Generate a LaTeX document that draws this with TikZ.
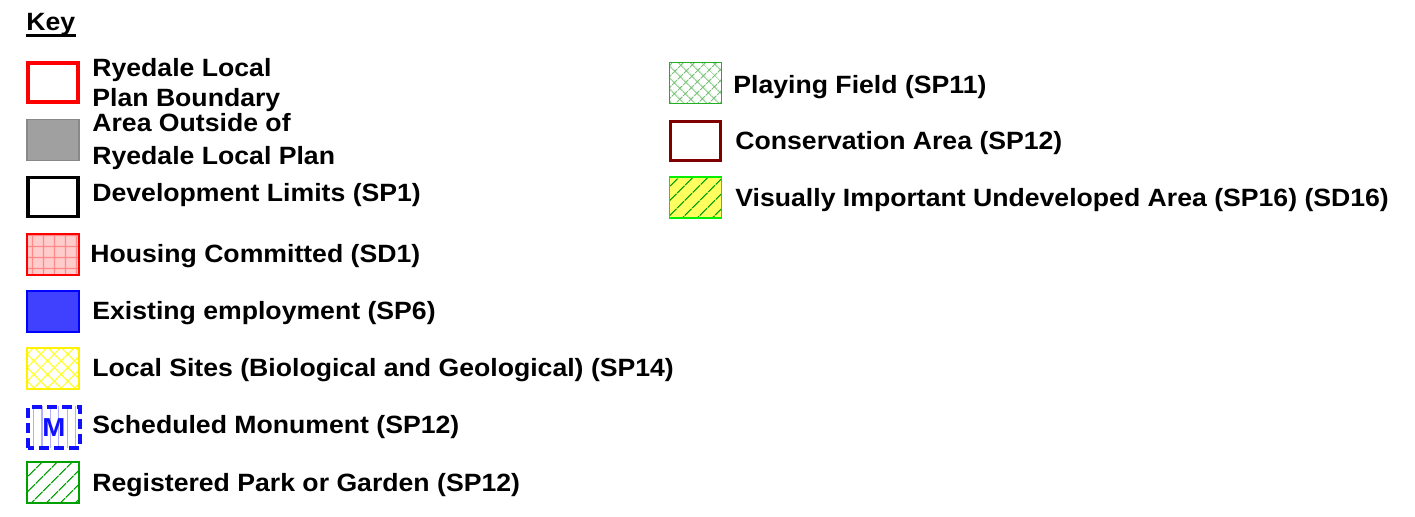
\documentclass[tikz,border=0pt]{standalone}
\usepackage{fontspec}
\setmainfont[FakeStretch=1.065]{Liberation Sans}
\usetikzlibrary{patterns.meta}

\definecolor{keyred}{HTML}{FF0000}
\definecolor{keygray}{HTML}{A0A0A0}
\definecolor{keypink}{HTML}{FFCCCC}
\definecolor{keygrid}{HTML}{FF8888}
\definecolor{keyblue}{HTML}{4040FF}
\definecolor{keyyellow}{HTML}{FFFF30}
\definecolor{keymon}{HTML}{1010FF}
\definecolor{keymonline}{HTML}{B0B0FF}
\definecolor{keygreen}{HTML}{00A000}
\definecolor{keyfield}{HTML}{20B020}
\definecolor{keyfieldline}{HTML}{78C078}
\definecolor{keycons}{HTML}{800000}
\definecolor{keyvis}{HTML}{FFFF60}
\definecolor{keyvisedge}{HTML}{00F000}

\begin{document}
\begin{tikzpicture}[x=0.5pt, y=-0.5pt,
  swatch/.style={minimum width=26pt, minimum height=20.5pt, inner sep=0pt, outer sep=0pt},
  keytext/.style={anchor=base west, inner sep=0pt, font=\bfseries\fontsize{12.5}{14}\selectfont}]

\useasboundingbox (0,0) rectangle (1415,517);

% heading
\node[keytext] (key) at (26,31) {Key};
\draw[line width=1.3pt] ([yshift=-2.4pt]key.base west) -- ([yshift=-2.4pt]key.base east);

% left column
\node[swatch, draw=keyred, line width=2pt, minimum width=25pt, minimum height=19.5pt] (bndbox) at (53,83) {};
\node[keytext] (bndtext) at (92,77) {Ryedale Local};
\node[keytext] (bndtextb) at (92,107) {Plan Boundary};

\node[swatch, fill=keygray, draw=keygray!85!black, line width=0.6pt] (outbox) at (53,140) {};
\node[keytext] (outtext) at (92,132) {Area Outside of};
\node[keytext] (outtextb) at (92,165) {Ryedale Local Plan};

\node[swatch, draw=black, line width=1.6pt, minimum width=25pt, minimum height=19.5pt] (devbox) at (53,197) {};
\node[keytext] (devtext) at (92,202) {Development Limits (SP1)};

\node[swatch, draw=keyred, line width=0.6pt, preaction={fill=keypink},
      pattern={Hatch[angle=0, distance=5.4pt, line width=0.6pt]}, pattern color=keygrid] (housebox) at (53,254.5) {};
\node[keytext] (housetext) at (90,263) {Housing Committed (SD1)};

\node[swatch, fill=keyblue, draw=blue, line width=0.6pt] (empbox) at (53,311.5) {};
\node[keytext] (emptext) at (92,320) {Existing employment (SP6)};

\node[swatch, draw=yellow, line width=0.6pt,
      pattern={Hatch[angle=45, distance=4.8pt, line width=0.6pt]}, pattern color=keyyellow] (sitebox) at (53,368.5) {};
\node[keytext] (sitetext) at (92,377) {Local Sites (Biological and Geological) (SP14)};

\node[swatch, minimum width=26pt, minimum height=20.5pt,
      pattern={Lines[angle=90, distance=4.2pt, line width=0.6pt]}, pattern color=keymonline] (monbox) at (54,427.5) {};
\draw[keymon, line width=2pt, dash pattern=on 5pt off 2.5pt] (monbox.south west) rectangle (monbox.north east);
\node[keymon, font=\bfseries\fontsize{13}{14}\selectfont, inner sep=0pt] (monmark) at (monbox.center) {M};
\node[keytext] (montext) at (92,434) {Scheduled Monument (SP12)};

\node[swatch, draw=keygreen, line width=0.6pt,
      pattern={Lines[angle=45, distance=5.4pt, line width=0.6pt]}, pattern color=keygreen] (parkbox) at (53,482.5) {};
\node[keytext] (parktext) at (92,492) {Registered Park or Garden (SP12)};

% right column
\node[swatch, draw=keyfield, line width=0.6pt,
      pattern={Hatch[angle=45, distance=4pt, line width=0.6pt]}, pattern color=keyfieldline] (fieldbox) at (695.5,83) {};
\node[keytext] (fieldtext) at (733,94) {Playing Field (SP11)};

\node[swatch, draw=keycons, line width=1.8pt, minimum width=25pt, minimum height=19.5pt] (consbox) at (695.5,141) {};
\node[keytext] (constext) at (735,150) {Conservation Area (SP12)};

\node[swatch, draw=keyvisedge, line width=0.6pt, preaction={fill=keyvis},
      pattern={Lines[angle=45, distance=5.4pt, line width=0.6pt]}, pattern color=keygreen] (visbox) at (695.5,197.5) {};
\node[keytext] (vistext) at (735,207) {Visually Important Undeveloped Area (SP16) (SD16)};

\end{tikzpicture}
\end{document}
